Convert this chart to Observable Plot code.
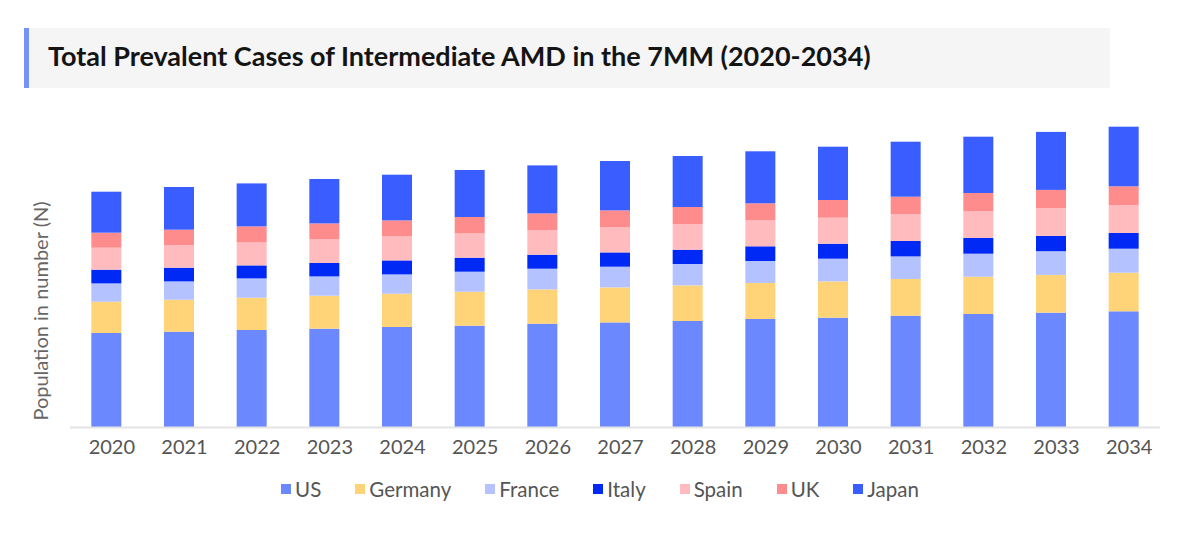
<!DOCTYPE html>
<html><head><meta charset="utf-8">
<script src="https://cdn.jsdelivr.net/npm/d3@7"></script>
<script src="https://cdn.jsdelivr.net/npm/@observablehq/plot@0.6"></script>
<style>
body{margin:0;background:#fff;font-family:Lato,"Open Sans",sans-serif;width:1200px;height:536px;position:relative;overflow:hidden}
#title{position:absolute;left:24px;top:28px;width:1086px;height:60px;background:#f5f5f5;border-left:5px solid #7393f7;box-sizing:border-box}
#title span{position:absolute;left:19px;top:0;line-height:56px;font-weight:700;font-size:27px;color:#141414;white-space:nowrap}
#chart{position:absolute;left:0;top:100px}
#ylab{position:absolute;left:40px;top:311px;transform:translate(-50%,-50%) rotate(-90deg);font-size:20px;color:#666;white-space:nowrap}
#legend{position:absolute;left:0;width:1200px;top:477px;display:flex;justify-content:center;align-items:center;gap:34px;font-size:20.5px;color:#555}
#legend .it{display:flex;align-items:center}
#legend .sw{width:10px;height:10px;margin-right:4px}
</style>
</head><body>
<div id="title"><span>Total Prevalent Cases of Intermediate AMD in the 7MM (2020-2034)</span></div>
<div id="chart"></div>
<div id="ylab">Population in number (N)</div>
<div id="legend"></div>
<script>
const years = ["2020","2021","2022","2023","2024","2025","2026","2027","2028","2029","2030","2031","2032","2033","2034"];
const countries = ["US","Germany","France","Italy","Spain","UK","Japan"];
const colors = ["#6b88ff","#ffd479","#b4c2ff","#0029f5","#ffbbbe","#ff8c8c","#3a5dff"];
// values in thousands
const US      = [9400,9530,9700,9830,10000,10130,10330,10460,10600,10800,10930,11130,11300,11430,11570];
const Germany = [3130,3200,3230,3300,3330,3400,3430,3500,3560,3600,3630,3670,3730,3780,3860];
const France  = [1830,1830,1930,1930,1930,2000,2070,2070,2140,2200,2270,2260,2300,2370,2400];
const Italy   = [1370,1370,1300,1340,1400,1400,1400,1430,1430,1470,1500,1540,1570,1530,1570];
const Spain   = [2200,2270,2300,2400,2400,2430,2460,2500,2570,2600,2600,2660,2660,2770,2800];
const UK      = [1500,1530,1600,1560,1600,1640,1670,1700,1700,1700,1770,1770,1840,1830,1870];
const Japan   = [4100,4270,4300,4440,4570,4700,4800,4940,5100,5200,5330,5500,5630,5800,5960];

const series = {US, Germany, France, Italy, Spain, UK, Japan};
const rows = [];
for (const c of countries) years.forEach((y, i) => rows.push({year: y, country: c, value: series[c][i]}));

const chart = Plot.plot({
  width: 1200,
  height: 370,
  marginTop: 0,
  marginBottom: 43,
  marginLeft: 70,
  marginRight: 40,
  style: {fontFamily: "Lato, 'Open Sans', sans-serif", background: "transparent"},
  x: {domain: years, paddingInner: 0.587, paddingOuter: 0.2935, round: false, label: null},
  y: {domain: [0, 32700], axis: null},
  color: {domain: countries, range: colors},
  marks: [
    Plot.barY(rows, Plot.stackY({x: "year", y: "value", fill: "country", order: countries})),
    Plot.ruleY([0], {stroke: "#e4e4e4", strokeWidth: 2}),
    Plot.axisX({tickSize: 0, tickPadding: 12, fontSize: 20, fill: "#555", dx: 5, label: null})
  ]
});
document.getElementById("chart").appendChild(chart);

const leg = document.getElementById("legend");
countries.forEach((c, i) => {
  const it = document.createElement("div"); it.className = "it";
  const sw = document.createElement("div"); sw.className = "sw"; sw.style.background = colors[i];
  const t = document.createElement("span"); t.textContent = c;
  it.appendChild(sw); it.appendChild(t); leg.appendChild(it);
});
</script>
</body></html>
